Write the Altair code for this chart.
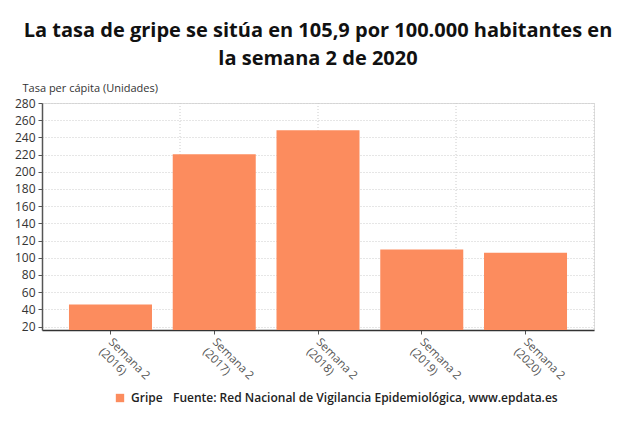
import altair as alt
import pandas as pd

semanas = ["Semana 2 (2016)", "Semana 2 (2017)", "Semana 2 (2018)", "Semana 2 (2019)", "Semana 2 (2020)"]
tasa = [45.6, 220.5, 248.3, 109.5, 105.9]
y_ticks = [20, 40, 60, 80, 100, 120, 140, 160, 180, 200, 220, 240, 260, 280]
serie = "Gripe"
fuente = "Fuente: Red Nacional de Vigilancia Epidemiológica, www.epdata.es"
titulo = ["La tasa de gripe se sitúa en 105,9 por 100.000 habitantes en", "la semana 2 de 2020"]
vgrid = [1, 2, 3, 4]

df = pd.DataFrame({"semana": semanas, "tasa": tasa, "serie": [serie] * len(semanas)})
gdf = pd.DataFrame({"g": vgrid})

FONT = "Open Sans"
ORANGE = "#fc8c5e"

bars = alt.Chart(df).mark_bar(color=ORANGE, clip=True).encode(
    x=alt.X("semana:N", sort=semanas, title=None,
            scale=alt.Scale(paddingInner=0.2, paddingOuter=0.26),
            axis=alt.Axis(labelAngle=45, labelAlign="left", labelBaseline="top",
                          labelExpr="[slice(datum.label,0,8), slice(datum.label,9)]",
                          labelFontSize=11.5, labelColor="#555555", labelFont=FONT,
                          labelPadding=2, tickSize=4, tickColor="#555555",
                          domainColor="#333333", domainWidth=1.5, grid=False,
                          labelOffset=4)),
    y=alt.Y("tasa:Q", title="Tasa per cápita (Unidades)",
            scale=alt.Scale(domain=[16, 280], zero=False, nice=False),
            axis=alt.Axis(values=y_ticks, labelFontSize=12, labelColor="#333333", labelFont=FONT,
                          tickSize=4, tickColor="#555555", domainColor="#555555", domainWidth=1.5,
                          gridColor="#cccccc", gridDash=[1, 2], gridWidth=1,
                          titleAngle=0, titleAlign="left", titleBaseline="bottom",
                          titleX=-20, titleY=-10, titleFont=FONT, titleFontSize=11,
                          titleFontWeight="normal", titleColor="#333333", labelPadding=3)),
    fill=alt.Fill("serie:N", scale=alt.Scale(range=[ORANGE]),
                  legend=alt.Legend(title=None, orient="none", legendX=72, legendY=289,
                                    symbolType="square", symbolSize=70, symbolStrokeWidth=0,
                                    labelFont=FONT, labelFontSize=12, labelFontWeight=600,
                                    labelColor="#222222", labelOffset=5)),
)

grid = alt.Chart(gdf).mark_rule(color="#cccccc", strokeDash=[1, 2], strokeWidth=1).encode(
    x=alt.X("g:Q", scale=alt.Scale(domain=[0, 4], nice=False), axis=None),
)

src = alt.Chart(gdf.head(1)).mark_text(
    text=fuente, align="left", baseline="middle", font=FONT, fontSize=12,
    fontWeight=600, color="#222222"
).encode(x=alt.value(131), y=alt.value(295))

chart = alt.layer(grid, bars, src).resolve_scale(x="independent").properties(
    width=552, height=227,
    autosize=alt.AutoSizeParams(type="none"),
    padding={"left": 34, "top": 95, "right": 28, "bottom": 80},
    title=alt.TitleParams(titulo, anchor="middle", font=FONT, fontSize=20, fontWeight="bold",
                          color="#111111", lineHeight=28, offset=13),
).configure_view(stroke=None).configure(font=FONT)

chart.save("out.html", embed_options={"renderer": "svg", "actions": False})
